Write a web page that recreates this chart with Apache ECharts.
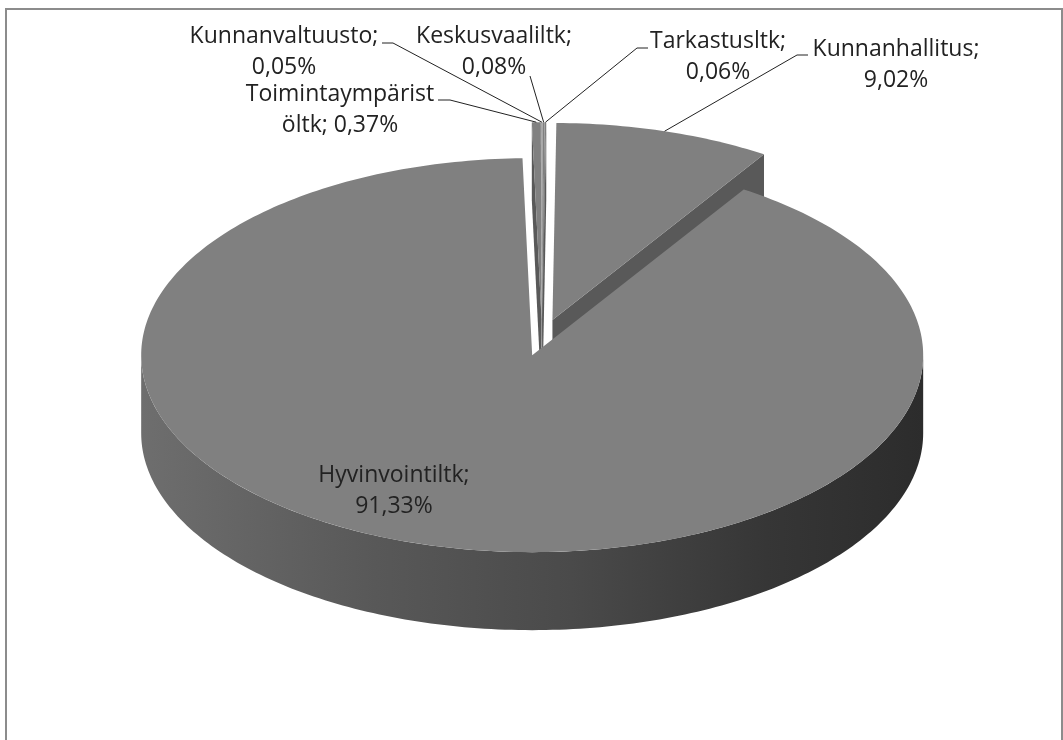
<!DOCTYPE html>
<html>
<head>
<meta charset="utf-8">
<script src="https://cdn.jsdelivr.net/npm/echarts@6/dist/echarts.min.js"></script>
<style>
  html, body { margin: 0; padding: 0; background: #fff; }
  #chart { width: 1063px; height: 740px; }
</style>
</head>
<body>
<div id="chart"></div>
<script>
// slices, clockwise from 12 o'clock
var names = ['Kunnanvaltuusto', 'Keskusvaaliltk', 'Tarkastusltk', 'Kunnanhallitus', 'Hyvinvointiltk', 'Toimintaympäristöltk'];
var values = [0.05, 0.08, 0.06, 9.02, 91.33, 0.37];

// 3d pie look
var cx = 542, cy = 337.5, rx = 391, ry = 197, depth = 78;
var startAngle = -0.1;
var explodeDist = 0.093;
var topColor = '#808080';
var faceColor = '#595959';
var rad = Math.PI / 180;

// label placement (Excel put them by hand)
var labelLayout = {
  'Kunnanvaltuusto': { x: 284, y: 52, line: [[382, 43], [393, 43]] },
  'Keskusvaaliltk': { x: 494, y: 52, line: [[530, 76]] },
  'Tarkastusltk': { x: 718, y: 57, line: [[648, 48], [637, 48]] },
  'Kunnanhallitus': { x: 896, y: 65, line: [[808, 55], [797, 55]] },
  'Hyvinvointiltk': { x: 394, y: 491 },
  'Toimintaympäristöltk': { x: 340, y: 110, wrap: 16, line: [[438, 100], [450, 100]] }
};

var total = values.reduce(function (a, b) { return a + b; }, 0);
var slices = [];
var acc = startAngle;
values.forEach(function (v, i) {
  var a0 = acc, a1 = acc + v / total * 360;
  acc = a1;
  var mid = (a0 + a1) / 2;
  slices.push({
    a0: a0, a1: a1, mid: mid,
    ox: cx + explodeDist * rx * Math.sin(mid * rad),
    oy: cy - explodeDist * ry * Math.cos(mid * rad)
  });
});

function pt(s, deg, r, dy) {
  return [s.ox + r * rx * Math.sin(deg * rad), s.oy - r * ry * Math.cos(deg * rad) + (dy || 0)];
}
function arc(s, d0, d1, dy) {
  var n = Math.max(2, Math.ceil(d1 - d0) + 1);
  var pts = [];
  for (var k = 0; k < n; k++) {
    pts.push(pt(s, d0 + (d1 - d0) * k / (n - 1), 1, dy));
  }
  return pts;
}
function face(s, deg) {
  var a = pt(s, deg, 0, 0), b = pt(s, deg, 1, 0);
  return {
    type: 'polygon',
    shape: { points: [a, b, [b[0], b[1] + depth], [a[0], a[1] + depth]] },
    style: { fill: faceColor }
  };
}

var wallGradient = new echarts.graphic.LinearGradient(0, 0, 1, 0, [
  { offset: 0, color: '#6e6e6e' },
  { offset: 0.3, color: '#585858' },
  { offset: 0.55, color: '#4a4a4a' },
  { offset: 0.8, color: '#363636' },
  { offset: 1, color: '#2c2c2c' }
]);

function renderWalls(params, api) {
  var s = slices[api.value(0)];
  var children = [];
  var lo = Math.max(s.a0, 90), hi = Math.min(s.a1, 270);
  if (hi > lo) {
    var top = arc(s, lo, hi, 0);
    var bottom = arc(s, lo, hi, depth).reverse();
    children.push({ type: 'polygon', shape: { points: top.concat(bottom) }, style: { fill: wallGradient } });
  }
  if (Math.sin(s.a0 * rad) < 0) children.push(face(s, s.a0));
  if (Math.sin(s.a1 * rad) > 0) children.push(face(s, s.a1));
  return { type: 'group', children: children };
}

function renderTops(params, api) {
  var s = slices[api.value(0)];
  var pts = [pt(s, 0, 0, 0)].concat(arc(s, s.a0, s.a1, 0));
  return { type: 'polygon', shape: { points: pts }, style: { fill: topColor } };
}

function fmt(v) {
  return v.toFixed(2).replace('.', ',') + '%';
}

function renderLabels(params, api) {
  var i = api.value(0);
  var s = slices[i];
  var lay = labelLayout[names[i]];
  var text = names[i] + ';\n' + fmt(values[i]);
  if (lay.wrap) {
    text = names[i].slice(0, lay.wrap) + '\n' + names[i].slice(lay.wrap) + '; ' + fmt(values[i]);
  }
  var children = [{
    type: 'text',
    style: {
      text: text, x: lay.x, y: lay.y,
      align: 'center', verticalAlign: 'middle',
      fontFamily: 'Open Sans', fontSize: 23, lineHeight: 31,
      fill: '#222'
    }
  }];
  if (lay.line) {
    children.push({
      type: 'polyline',
      shape: { points: lay.line.concat([pt(s, s.mid, 1, 0)]) },
      style: { stroke: '#222', lineWidth: 1, fill: null }
    });
  }
  return { type: 'group', children: children };
}

var idx = names.map(function (n, i) { return [i]; });

var chart = echarts.init(document.getElementById('chart'));
chart.setOption({
  animation: false,
  backgroundColor: '#fff',
  graphic: [{
    type: 'rect',
    shape: { x: 6, y: 9, width: 1056, height: 780 },
    style: { fill: 'none', stroke: '#8c8c8c', lineWidth: 2 },
    silent: true
  }],
  series: [
    { type: 'custom', coordinateSystem: 'none', z: 1, renderItem: renderWalls, data: idx },
    { type: 'custom', coordinateSystem: 'none', z: 2, renderItem: renderTops, data: idx },
    { type: 'custom', coordinateSystem: 'none', z: 3, renderItem: renderLabels, data: idx }
  ]
});
</script>
</body>
</html>
